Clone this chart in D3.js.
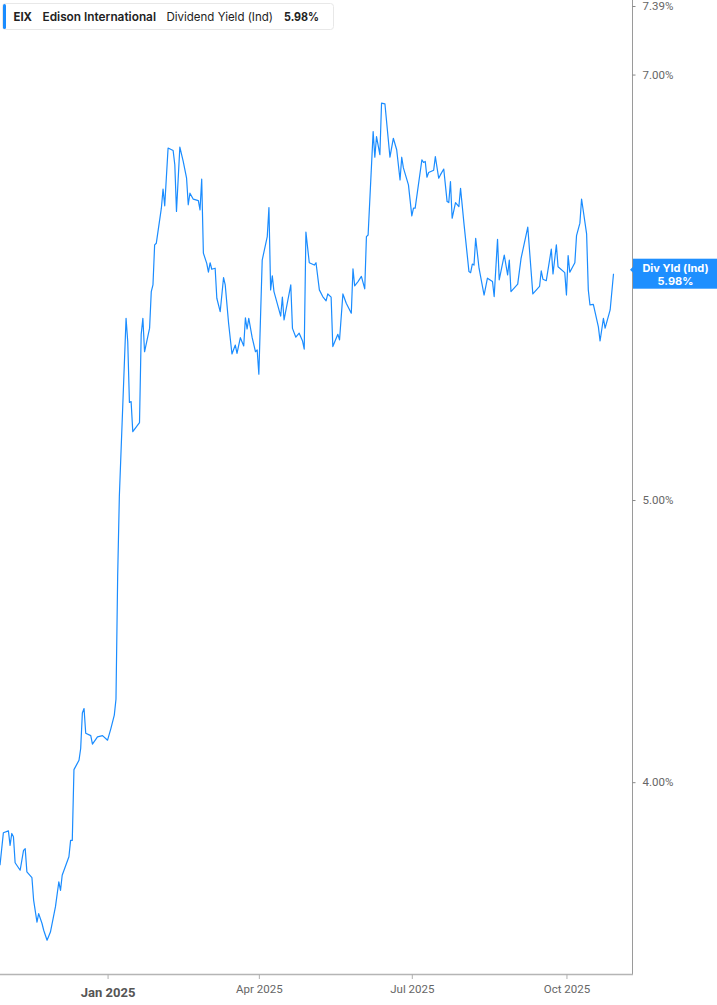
<!DOCTYPE html>
<html>
<head>
<meta charset="utf-8">
<script src="https://cdn.jsdelivr.net/npm/d3@7/dist/d3.min.js"></script>
<style>
  html, body { margin: 0; padding: 0; background: #fff; }
  svg { display: block; }
</style>
</head>
<body>
<svg id="chart" width="717" height="1005"></svg>
<script>
// ---- data ----
const ticker = "EIX";
const company = "Edison International";
const metric = "Dividend Yield (Ind)";
const lastLabel = "5.98%";
const badgeTitle = "Div Yld (Ind)";

const dates = [
"2024-10-29","2024-10-31","2024-11-03","2024-11-04","2024-11-05","2024-11-06","2024-11-07","2024-11-10","2024-11-12","2024-11-13",
"2024-11-14","2024-11-17","2024-11-18","2024-11-20","2024-11-21","2024-11-23","2024-11-24","2024-11-26","2024-11-28","2024-12-01",
"2024-12-03","2024-12-04","2024-12-05","2024-12-09","2024-12-10","2024-12-11","2024-12-12","2024-12-15","2024-12-16","2024-12-17",
"2024-12-18","2024-12-19","2024-12-22","2024-12-23","2024-12-26","2024-12-29","2025-01-01","2025-01-03","2025-01-05","2025-01-06",
"2025-01-07","2025-01-08","2025-01-12","2025-01-13","2025-01-14","2025-01-15","2025-01-16","2025-01-20","2025-01-21","2025-01-22",
"2025-01-23","2025-01-26","2025-01-27","2025-01-28","2025-01-29","2025-01-30","2025-02-02","2025-02-03","2025-02-04","2025-02-06",
"2025-02-09","2025-02-10","2025-02-11","2025-02-13","2025-02-15","2025-02-17","2025-02-18","2025-02-19","2025-02-21","2025-02-24",
"2025-02-25","2025-02-26","2025-02-27","2025-03-01","2025-03-02","2025-03-03","2025-03-04","2025-03-06","2025-03-07","2025-03-09",
"2025-03-11","2025-03-12","2025-03-14","2025-03-16","2025-03-18","2025-03-19","2025-03-21","2025-03-23","2025-03-24","2025-03-25",
"2025-03-26","2025-03-28","2025-03-30","2025-03-31","2025-04-01","2025-04-03","2025-04-06","2025-04-07","2025-04-08","2025-04-09",
"2025-04-10","2025-04-14","2025-04-15","2025-04-16","2025-04-20","2025-04-21","2025-04-23","2025-04-25","2025-04-27","2025-04-28",
"2025-04-29","2025-05-01","2025-05-04","2025-05-05","2025-05-07","2025-05-09","2025-05-11","2025-05-12","2025-05-14","2025-05-15",
"2025-05-18","2025-05-19","2025-05-21","2025-05-23","2025-05-26","2025-05-27","2025-05-28","2025-05-30","2025-06-01","2025-06-03",
"2025-06-04","2025-06-05","2025-06-08","2025-06-09","2025-06-10","2025-06-12","2025-06-13","2025-06-15","2025-06-18","2025-06-20",
"2025-06-22","2025-06-24","2025-06-25","2025-06-26","2025-06-29","2025-07-01","2025-07-02","2025-07-03","2025-07-07","2025-07-08",
"2025-07-09","2025-07-10","2025-07-11","2025-07-14","2025-07-15","2025-07-17","2025-07-18","2025-07-20","2025-07-22","2025-07-23",
"2025-07-24","2025-07-25","2025-07-27","2025-07-29","2025-07-30","2025-08-01","2025-08-04","2025-08-05","2025-08-06","2025-08-07",
"2025-08-08","2025-08-10","2025-08-13","2025-08-15","2025-08-18","2025-08-19","2025-08-21","2025-08-22","2025-08-25","2025-08-27",
"2025-08-28","2025-08-29","2025-09-02","2025-09-04","2025-09-08","2025-09-11","2025-09-15","2025-09-16","2025-09-17","2025-09-19",
"2025-09-22","2025-09-23","2025-09-25","2025-09-26","2025-09-30","2025-10-01","2025-10-02","2025-10-03","2025-10-06","2025-10-07",
"2025-10-09","2025-10-10","2025-10-13","2025-10-14","2025-10-15","2025-10-17","2025-10-20","2025-10-21","2025-10-23","2025-10-24",
"2025-10-27","2025-10-29"
];

const yields = [
3.746,3.843,3.849,3.805,3.841,3.831,3.753,3.731,3.790,3.795,
3.726,3.709,3.644,3.581,3.605,3.577,3.558,3.530,3.553,3.625,
3.697,3.672,3.716,3.771,3.820,3.820,4.040,4.070,4.108,4.225,
4.240,4.158,4.150,4.122,4.146,4.150,4.135,4.174,4.218,4.271,
4.706,5.013,5.773,5.667,5.401,5.405,5.278,5.316,5.700,5.773,
5.622,5.728,5.896,5.927,6.118,6.126,6.298,6.394,6.310,6.605,
6.592,6.518,6.282,6.610,6.535,6.449,6.315,6.373,6.343,6.336,
6.290,6.444,6.078,6.029,5.987,6.032,6.001,6.006,5.865,5.803,
5.962,5.927,5.750,5.612,5.652,5.615,5.685,5.648,5.775,5.724,
5.773,5.686,5.622,5.630,5.523,6.045,6.158,6.301,5.904,5.970,
5.896,5.783,5.870,5.765,5.927,5.727,5.687,5.705,5.670,5.634,
6.180,6.032,6.021,6.032,5.904,5.873,5.853,5.885,5.870,5.645,
5.700,5.675,5.885,5.842,5.796,6.003,5.923,5.943,5.967,5.909,
6.158,6.166,6.691,6.557,6.665,6.570,6.844,6.840,6.557,6.656,
6.596,6.440,6.557,6.502,6.415,6.260,6.298,6.298,6.544,6.530,
6.535,6.454,6.478,6.490,6.560,6.449,6.466,6.496,6.331,6.326,
6.432,6.248,6.326,6.306,6.398,6.224,5.990,5.985,6.026,6.021,
6.150,6.006,5.880,5.959,5.943,5.873,6.145,5.951,6.069,5.974,
6.045,5.896,5.931,6.053,6.204,5.885,5.920,5.993,5.954,5.947,
6.097,5.979,6.118,6.013,5.985,5.880,6.066,5.987,6.032,6.163,
6.224,6.344,6.171,5.904,5.834,5.837,5.734,5.670,5.773,5.728,
5.811,5.980
];

const yTickValues = [4.00, 5.00, 7.00, 7.39];
const xTickDates = ["2025-01-01", "2025-04-01", "2025-07-01", "2025-10-01"];
const xTickLabels = ["Jan 2025", "Apr 2025", "Jul 2025", "Oct 2025"];
const xDomain = ["2024-10-29", "2025-11-09"];
const yDomain = [3.437, 7.39];

// ---- layout ----
const W = 717, H = 1005;
const plotRight = 632, plotBottom = 974, plotTop = 6;
const lineColor = "#1a8cff";

const parse = d3.utcParse("%Y-%m-%d");
const series = dates.map((d, i) => ({ date: parse(d), value: yields[i] }));

const x = d3.scaleUtc().domain(xDomain.map(parse)).range([0, plotRight]);
const y = d3.scaleLog().domain(yDomain).range([plotBottom, plotTop]);

const svg = d3.select("#chart");

// right axis line
svg.append("line")
  .attr("x1", plotRight + 0.5).attr("x2", plotRight + 0.5)
  .attr("y1", 0).attr("y2", plotBottom)
  .attr("stroke", "#9a9a9a").attr("stroke-width", 1);

// right y axis
const yAxis = d3.axisRight(y)
  .tickValues(yTickValues)
  .tickSize(3)
  .tickPadding(7)
  .tickFormat(d => d3.format(".2f")(d) + "%");
const gy = svg.append("g")
  .attr("transform", `translate(${plotRight + 0.5},0)`)
  .call(yAxis);
gy.select(".domain").remove();
gy.selectAll(".tick line").attr("stroke", "#888");
gy.selectAll(".tick text")
  .attr("fill", "#666")
  .style("font-family", "Roboto, 'Liberation Sans', sans-serif")
  .style("font-size", "11.5px");

// bottom x axis
const xAxis = d3.axisBottom(x)
  .tickValues(xTickDates.map(parse))
  .tickSize(5)
  .tickPadding(6)
  .tickFormat((d, i) => xTickLabels[i]);
const gx = svg.append("g")
  .attr("transform", `translate(0,${plotBottom})`)
  .call(xAxis);
gx.select(".domain")
  .attr("d", `M0,0.5H${plotRight + 1}`)
  .attr("stroke", "#b5b5b5").attr("stroke-width", 1.6);
gx.selectAll(".tick line").attr("stroke", "#b0b0b0");
gx.selectAll(".tick text")
  .attr("fill", "#666")
  .style("font-family", "Roboto, 'Liberation Sans', sans-serif")
  .style("font-size", "11.5px");
gx.selectAll(".tick text").filter((d, i) => i === 0)
  .attr("fill", "#555")
  .attr("dy", "0.9em")
  .style("font-weight", "700")
  .style("font-size", "13px");

// line
const line = d3.line()
  .x(d => x(d.date))
  .y(d => y(d.value));
svg.append("path")
  .datum(series)
  .attr("fill", "none")
  .attr("stroke", lineColor)
  .attr("stroke-width", 1.2)
  .attr("stroke-linejoin", "round")
  .attr("d", line);

// last value badge
const last = series[series.length - 1];
const by = y(last.value);
const badge = svg.append("g");
badge.append("rect")
  .attr("x", plotRight + 1).attr("y", by - 15)
  .attr("width", W - plotRight - 1).attr("height", 30)
  .attr("fill", "#1e8fff");
badge.append("path")
  .attr("d", `M${plotRight + 1},${by - 7} l-3,3 l3,3 Z`)
  .attr("fill", "#1e8fff");
badge.append("text")
  .attr("x", (plotRight + W) / 2 + 1).attr("y", by - 2)
  .attr("text-anchor", "middle")
  .attr("fill", "#fff")
  .style("font-family", "Inter, 'Noto Sans', sans-serif")
  .style("font-weight", "700")
  .style("font-size", "11px")
  .text(badgeTitle);
badge.append("text")
  .attr("x", (plotRight + W) / 2 + 1).attr("y", by + 11)
  .attr("text-anchor", "middle")
  .attr("fill", "#fff")
  .style("font-family", "Inter, 'Noto Sans', sans-serif")
  .style("font-weight", "700")
  .style("font-size", "11px")
  .text(lastLabel);

// header legend box
const hdr = svg.append("g");
hdr.append("rect")
  .attr("x", 2.5).attr("y", 3.5).attr("width", 331).attr("height", 26)
  .attr("rx", 3)
  .attr("fill", "#fff").attr("stroke", "#e8e8e8");
hdr.append("rect")
  .attr("x", 3).attr("y", 4).attr("width", 3).attr("height", 25)
  .attr("rx", 1.5)
  .attr("fill", lineColor);
const hText = [
  { t: ticker, x: 13.5, len: 18.5, w: 700 },
  { t: company, x: 42.5, len: 113.5, w: 600 },
  { t: metric, x: 166.5, len: 106.5, w: 400 },
  { t: lastLabel, x: 284, len: 35, w: 700 }
];
hdr.selectAll("text.h").data(hText).enter().append("text")
  .attr("class", "h")
  .attr("x", d => d.x).attr("y", 20.5)
  .attr("textLength", d => d.len)
  .attr("lengthAdjust", "spacingAndGlyphs")
  .attr("fill", "#222")
  .style("font-family", "Inter, 'Noto Sans', sans-serif")
  .style("font-size", "11.8px")
  .style("font-weight", d => d.w)
  .text(d => d.t);
</script>
</body>
</html>
